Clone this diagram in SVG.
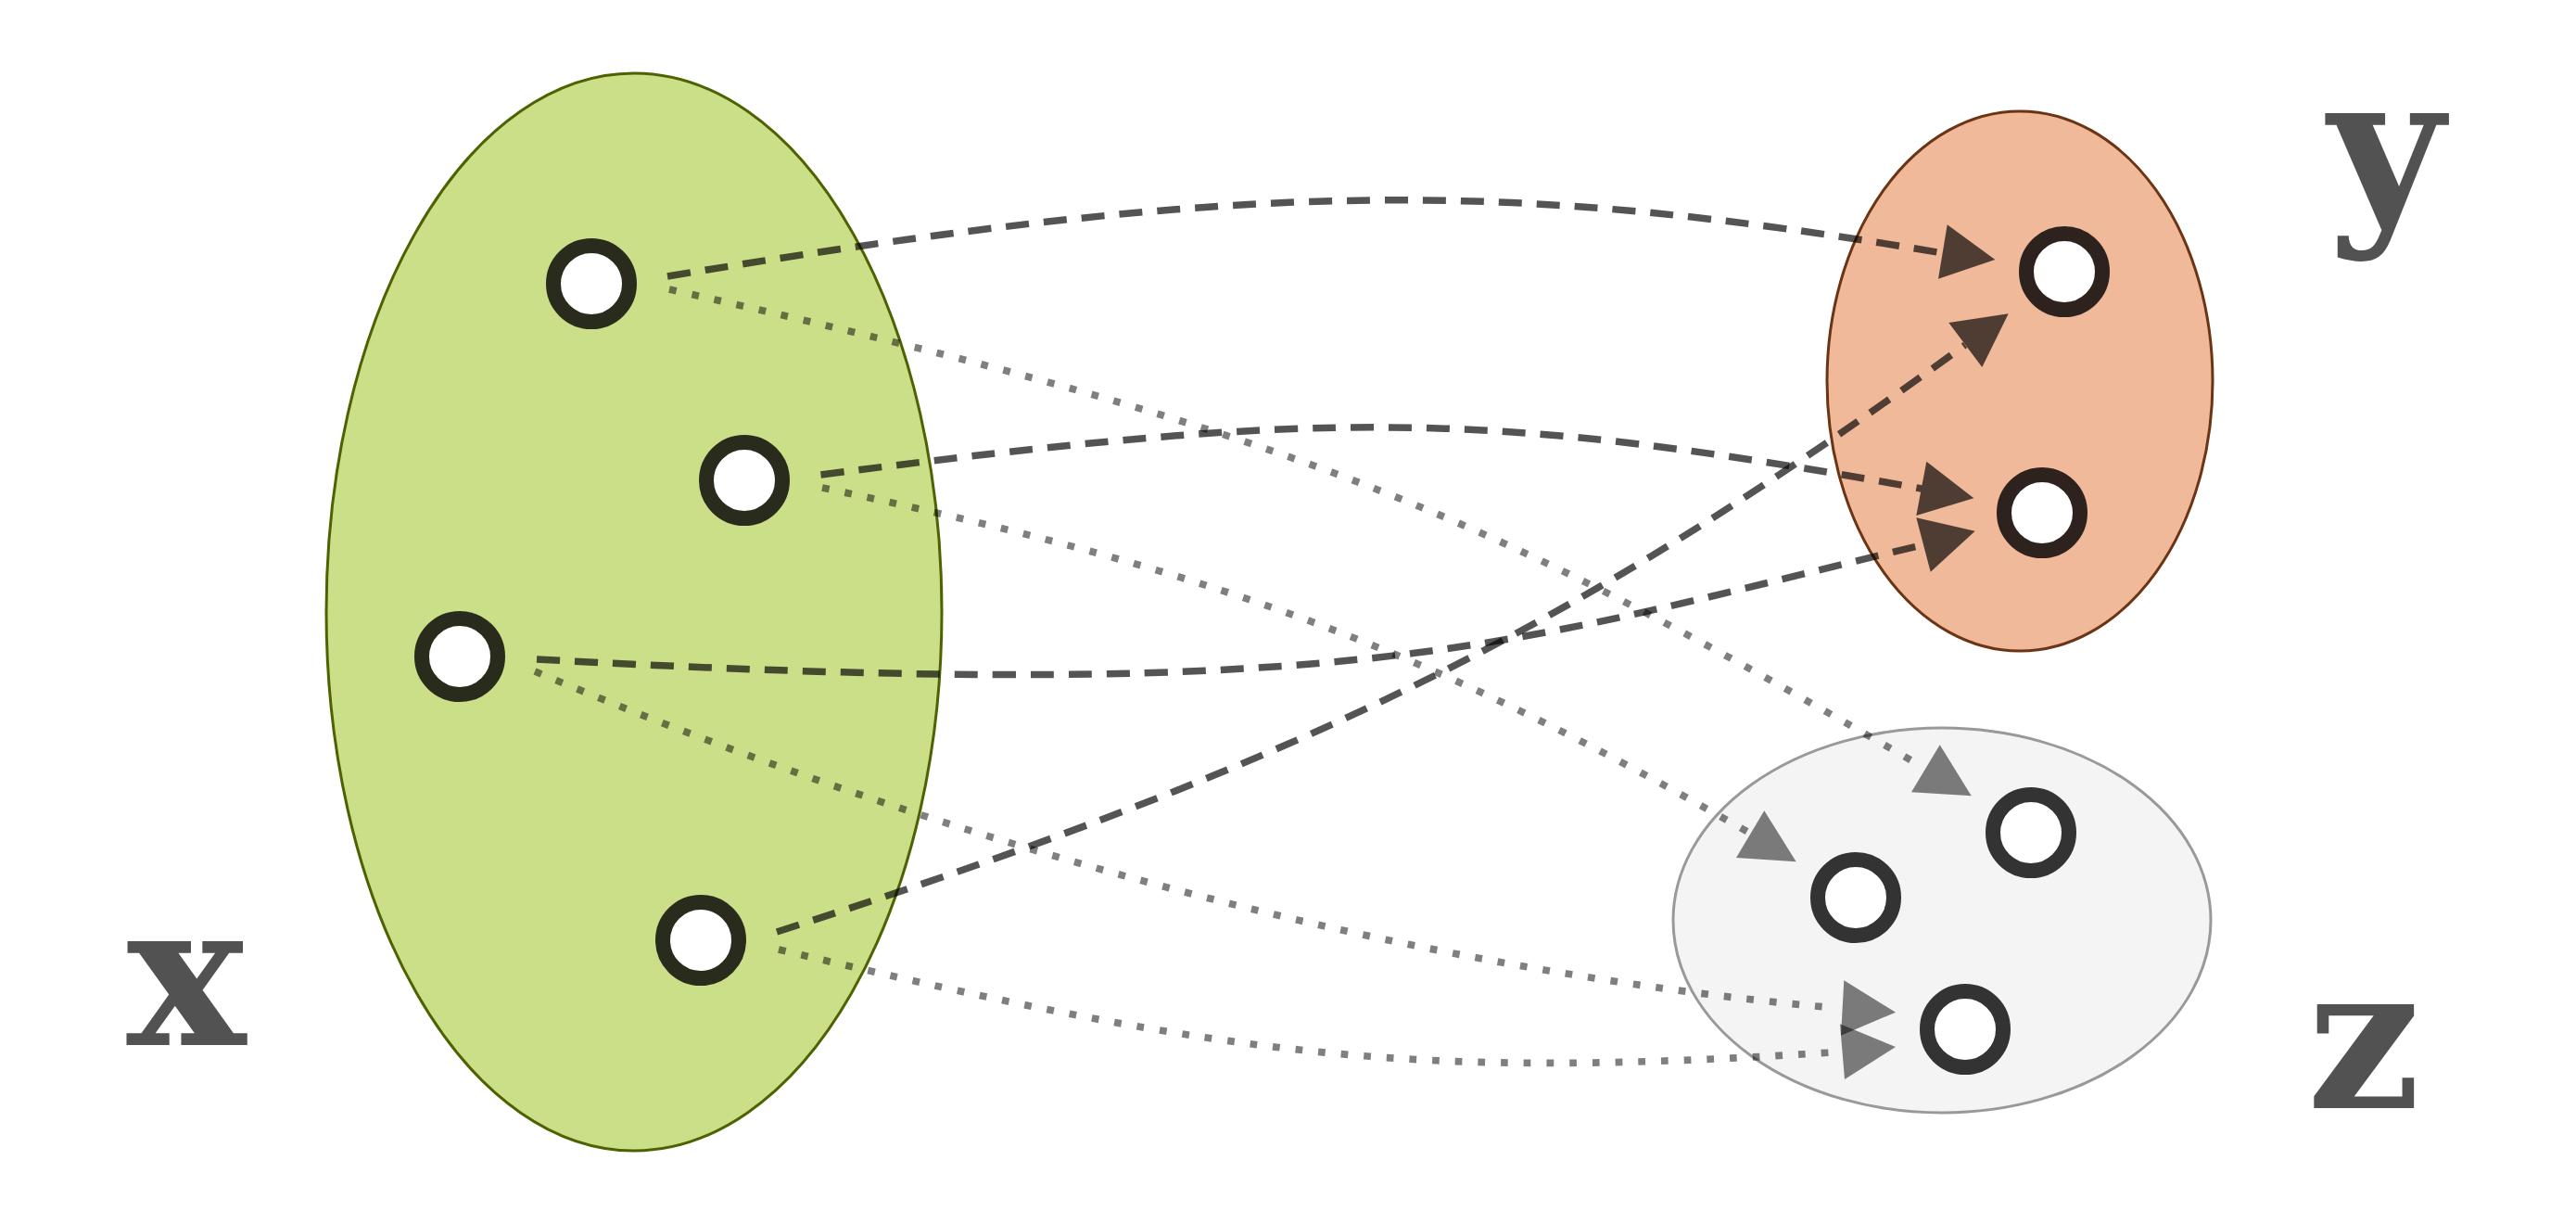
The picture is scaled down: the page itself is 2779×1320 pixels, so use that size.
<svg xmlns="http://www.w3.org/2000/svg" width="2779" height="1320" viewBox="0 0 2779 1320">
<style>
.bg{fill:#ffffff}
.set{stroke-width:3}
.ring{fill:#ffffff;stroke-width:16}
.dash{fill:none;stroke:#000;stroke-opacity:0.67;stroke-width:7.5;stroke-dasharray:25 16}
.dot{fill:none;stroke:#000;stroke-opacity:0.5;stroke-width:7.7;stroke-dasharray:7.7 17}
.headd{fill:#000;fill-opacity:0.67}
.headp{fill:#000;fill-opacity:0.5}
.lbl{font-family:"DejaVu Serif","Liberation Serif",serif;font-weight:bold;font-size:216px;fill:#525252;text-anchor:middle}
</style>
<rect class="bg" x="0" y="0" width="2779" height="1320"/>
<g id="set-x">
<ellipse class="set" cx="684" cy="660" rx="332" ry="581" fill="#cbdf88" stroke="#4d6200"/>
</g>
<g id="set-y">
<ellipse class="set" cx="2179" cy="411" rx="208" ry="291" fill="#efb99a" stroke="#6b3515"/>
</g>
<g id="set-z">
<ellipse class="set" cx="2095" cy="992.5" rx="290" ry="207.5" fill="#f4f4f4" stroke="#999999" stroke-width="3.5"/>
</g>
<g id="connectors">
<path class="dash" d="M720,298 C1352,193 1623,193 2096,273"/>
<path class="dash" d="M885.5,512 C1432,441.5 1601,441.5 2073,527"/>
<path class="dash" d="M579,711 C1479,760 1625,695 2075,587.5"/>
<path class="dash" d="M838,1005 C1438,813 1720,662.4 2120,372"/>
<path class="dot" d="M722,312 C1422,468.8 1617,563.4 2067,823"/>
<path class="dot" d="M887,526 C1337,620 1557,710.2 1887,898"/>
<path class="dot" d="M577,724 C1027,913.5 1519,1045 1969,1086"/>
<path class="dot" d="M840,1024 C1340,1143 1526,1163.4 1976,1135"/>
<polygon class="headd" points="2152.3,280 2100.7,242.3 2091,300.7"/>
<polygon class="headd" points="2129.3,537.3 2078.3,497.7 2067.3,556"/>
<polygon class="headd" points="2130.7,572.7 2067.3,558.3 2082.7,616.7"/>
<polygon class="headd" points="2166.7,338.3 2102.3,348 2138.3,396"/>
<polygon class="headp" points="2092.7,803.3 2062,854.3 2126.7,858.3"/>
<polygon class="headp" points="1903.3,874.3 1873,925 1937.7,929.3"/>
<polygon class="headp" points="2045,1091.7 1989.3,1057.3 1986,1116.7"/>
<polygon class="headp" points="2045,1129 1985,1104.3 1990,1164"/>
</g>
<g id="x1"><circle class="ring" cx="638" cy="306" r="41" stroke="#292b1d"/></g>
<g id="x2"><circle class="ring" cx="803" cy="518" r="41" stroke="#292b1d"/></g>
<g id="x3"><circle class="ring" cx="496" cy="708" r="41" stroke="#292b1d"/></g>
<g id="x4"><circle class="ring" cx="756" cy="1014" r="41" stroke="#292b1d"/></g>
<g id="y1"><circle class="ring" cx="2227" cy="293" r="41" stroke="#2e221e"/></g>
<g id="y2"><circle class="ring" cx="2203" cy="553" r="41" stroke="#2e221e"/></g>
<g id="z1"><circle class="ring" cx="2191" cy="898" r="41" stroke="#333333"/></g>
<g id="z2"><circle class="ring" cx="2002" cy="968" r="41" stroke="#333333"/></g>
<g id="z3"><circle class="ring" cx="2120" cy="1110" r="41" stroke="#333333"/></g>
<g id="label-x"><text class="lbl" x="201" y="1127">x</text></g>
<g id="label-y"><text class="lbl" x="2574" y="234">y</text></g>
<g id="label-z"><text class="lbl" x="2550" y="1195">z</text></g>
</svg>
